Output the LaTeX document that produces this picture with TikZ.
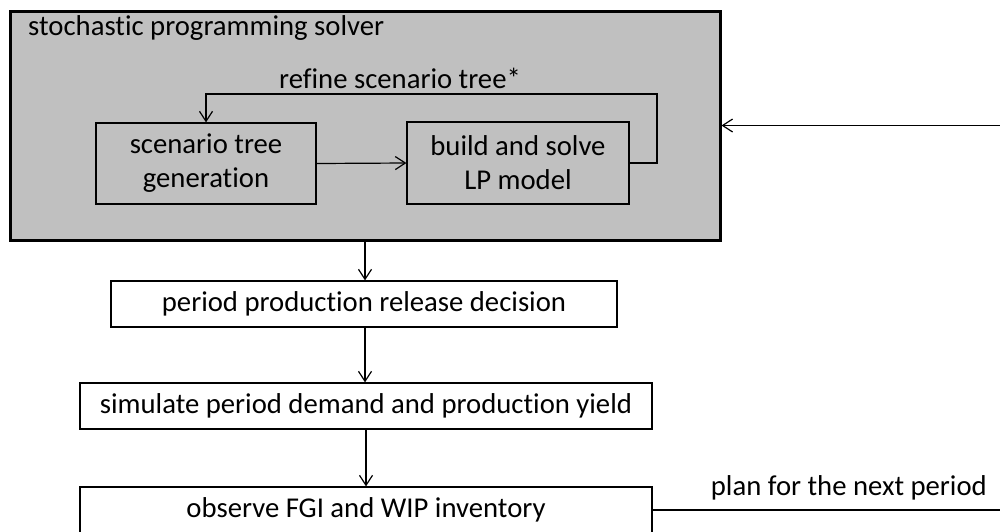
\documentclass[tikz,border=0pt]{standalone}
\usepackage{fontspec}
\setmainfont[Ligatures=NoCommon]{Carlito}
\usetikzlibrary{arrows.meta,calc}
\definecolor{solvergray}{HTML}{C0C0C0}
\tikzset{
  every node/.style={font=\fontsize{28.7}{34}\selectfont},
  box/.style={draw, line width=1.2pt, inner sep=0pt, align=center},
  graybox/.style={box, fill=solvergray},
  whitebox/.style={box, fill=white},
  arr/.style={line width=1.2pt, -{Straight Barb[length=10pt,width=13pt,line width=1.2pt]}},
}
\begin{document}
\begin{tikzpicture}[x=1pt,y=-1pt]
\useasboundingbox (0,0) rectangle (1000,531);
\clip (0,0) rectangle (1000,531);

% solver frame
\node[draw, line width=3pt, fill=solvergray, minimum width=710pt, minimum height=229pt, inner sep=0pt]
  (solver) at (365,125.5) {};
\node[anchor=base west, inner sep=0pt] (title) at (28,35) {stochastic programming solver};

% inner steps
\node[graybox, minimum width=220pt, minimum height=81pt] (gen) at (206,163.5) {scenario tree\\generation};
\node[graybox, minimum width=222pt, minimum height=82pt] (lp) at (518,163) {build and solve\\LP model};

% main flow
\node[whitebox, minimum width=506pt, minimum height=46pt] (release) at (364,304) {period production release decision};
\node[whitebox, minimum width=572pt, minimum height=46pt] (simulate) at (366,406) {simulate period demand and production yield};
\node[whitebox, minimum width=572pt, minimum height=46pt] (observe) at (366,510) {observe FGI and WIP inventory};

% feedback loop inside the solver
\coordinate (fbR) at (657,94);
\coordinate (fbL) at (206,94);
\draw[arr] (gen.east) -- (lp.west);
\draw[arr] (lp.east) -| (fbR) -- (fbL) -- (gen.north);
\node[anchor=base, inner sep=0pt] (refine) at (400,88) {refine scenario tree*};

% vertical flow
\draw[arr] (solver.south) -- (solver.south |- release.north);
\draw[arr] (release.south -| solver.south) -- (simulate.north -| solver.south);
\draw[arr] (simulate.south) -- (observe.north);

% return path to the solver
\coordinate (backB) at (1015,510);
\coordinate (backT) at (1015,125.5);
\draw[arr] (observe.east) -- (backB) -- (backT) -- (solver.east);
\node[anchor=base east, inner sep=0pt] (plan) at (987,495) {plan for the next period};
\end{tikzpicture}
\end{document}
